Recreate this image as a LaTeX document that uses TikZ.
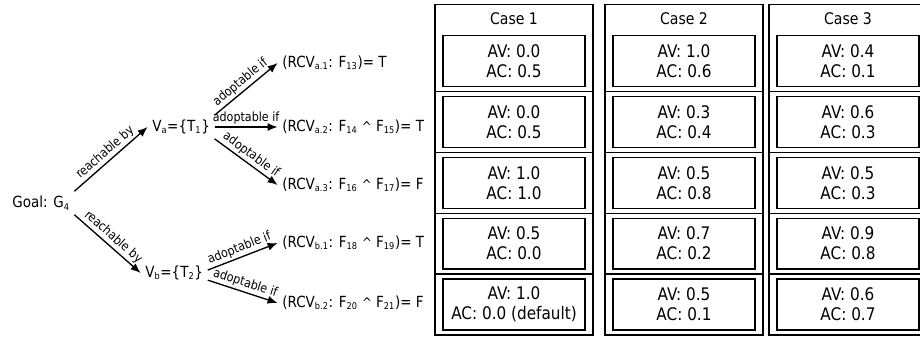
\documentclass[tikz,border=0pt]{standalone}
\usepackage{fontspec}
\setmainfont{DejaVu Sans}[FakeStretch=0.88]
\usetikzlibrary{arrows.meta}

\newcommand{\idx}[1]{\textsubscript{\fontsize{7}{8}\selectfont #1}}
\newcommand{\andop}{{\fontsize{10}{12}\selectfont\textasciicircum}}

\tikzset{
  arr/.style={-{Latex[length=7.5pt,width=6pt]}, line width=1pt},
  lbl/.style={font=\fontsize{9.5}{10}\selectfont, sloped, above, midway, inner sep=1.5pt},
  treetxt/.style={anchor=west, font=\fontsize{11.5}{13}\selectfont},
  casehead/.style={font=\fontsize{12}{14}\selectfont},
  valbox/.style={draw, line width=1pt, minimum width=106.5pt, minimum height=38.2pt,
    align=center, inner sep=0pt, font=\fontsize{13}{15}\selectfont},
}

\begin{document}
\begin{tikzpicture}[x=0.75pt, y=-0.75pt]
        \useasboundingbox (0,0) rectangle (920,338);
        \clip (0,0) rectangle (920,338);

        % the goal and its variants
        \node[treetxt] (goal) at (7.6,203) {Goal: G\idx{4}};
        \node[treetxt] (va) at (147.6,127) {V\idx{a}=\{T\idx{1}\}};
        \node[treetxt] (vb) at (140.6,273) {V\idx{b}=\{T\idx{2}\}};

        % the conditions of the variants
        \node[treetxt] (rcva1) at (277.6,63) {(RCV\idx{a.1}: F\idx{13})= T};
        \node[treetxt] (rcva2) at (277.6,127) {(RCV\idx{a.2}: F\idx{14} \andop{} F\idx{15})= T};
        \node[treetxt] (rcva3) at (277.6,185) {(RCV\idx{a.3}: F\idx{16} \andop{} F\idx{17})= F};
        \node[treetxt] (rcvb1) at (277.6,243) {(RCV\idx{b.1}: F\idx{18} \andop{} F\idx{19})= T};
        \node[treetxt] (rcvb2) at (277.6,303) {(RCV\idx{b.2}: F\idx{20} \andop{} F\idx{21})= F};

        % draw the arrows
        \draw[arr] (goal.north east) -- (va.west) node[lbl] {reachable by};
        \draw[arr] (goal.south east) -- (vb.west) node[lbl] {reachable by};
        \draw[arr] (va.north east) -- (rcva1.west) node[lbl] {adoptable if};
        \draw[arr] (va.east) -- (rcva2.west) node[lbl] {adoptable if};
        \draw[arr] (va.south east) -- (rcva3.west) node[lbl] {adoptable if};
        \draw[arr] (vb.5) -- (rcvb1.west) node[lbl] {adoptable if};
        \draw[arr] (vb.-12) -- (rcvb2.west) node[lbl] {adoptable if};

        % the three cases
        \draw[line width=1pt] (435,4.5) rectangle (593,335);
        \draw[line width=1pt] (605,4.5) rectangle (763,335);
        \draw[line width=1pt] (769,4.5) rectangle (927,335);
        \draw[line width=1pt] (435,91.4) -- ++(158,0) (435,152.3) -- ++(158,0)
              (435,213.2) -- ++(158,0) (435,274.1) -- ++(158,0);
        \draw[line width=1pt] (605,91.4) -- ++(158,0) (605,152.3) -- ++(158,0)
              (605,213.2) -- ++(158,0) (605,274.1) -- ++(158,0);
        \draw[line width=1pt] (769,91.4) -- ++(158,0) (769,152.3) -- ++(158,0)
              (769,213.2) -- ++(158,0) (769,274.1) -- ++(158,0);

        \node[casehead] (case1) at (514,19) {Case 1};
        \node[casehead] (case2) at (684,19) {Case 2};
        \node[casehead] (case3) at (848,19) {Case 3};

        % the values of case 1
        \node[valbox] (c1a1) at (514,60.95) {AV: 0.0\\AC: 0.5};
        \node[valbox] (c1a2) at (514,121.85) {AV: 0.0\\AC: 0.5};
        \node[valbox] (c1a3) at (514,182.75) {AV: 1.0\\AC: 1.0};
        \node[valbox] (c1b1) at (514,243.65) {AV: 0.5\\AC: 0.0};
        \node[valbox] (c1b2) at (514,304.55) {AV: 1.0\\AC: 0.0 (default)};

        % the values of case 2
        \node[valbox] (c2a1) at (684,60.95) {AV: 1.0\\AC: 0.6};
        \node[valbox] (c2a2) at (684,121.85) {AV: 0.3\\AC: 0.4};
        \node[valbox] (c2a3) at (684,182.75) {AV: 0.5\\AC: 0.8};
        \node[valbox] (c2b1) at (684,243.65) {AV: 0.7\\AC: 0.2};
        \node[valbox] (c2b2) at (684,304.55) {AV: 0.5\\AC: 0.1};

        % the values of case 3
        \node[valbox] (c3a1) at (848,60.95) {AV: 0.4\\AC: 0.1};
        \node[valbox] (c3a2) at (848,121.85) {AV: 0.6\\AC: 0.3};
        \node[valbox] (c3a3) at (848,182.75) {AV: 0.5\\AC: 0.3};
        \node[valbox] (c3b1) at (848,243.65) {AV: 0.9\\AC: 0.8};
        \node[valbox] (c3b2) at (848,304.55) {AV: 0.6\\AC: 0.7};
\end{tikzpicture}
\end{document}
